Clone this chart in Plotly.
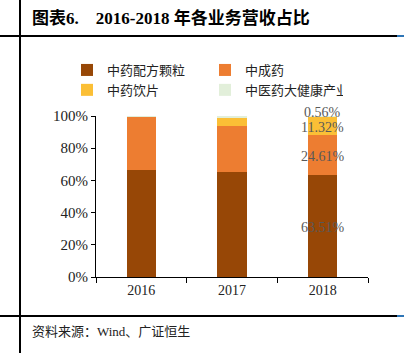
import plotly.graph_objects as go

years = ["2016", "2017", "2018"]
series_names = ["中药配方颗粒", "中成药", "中药饮片", "中医药大健康产业"]
granules = [66.6, 65.5, 63.51]
patent = [33.2, 28.5, 24.61]
pieces = [0.0, 5.3, 11.32]
health = [0.2, 0.7, 0.56]
colors = ["#974706", "#ED7D31", "#FBBF36", "#E2EFDA"]
y_ticks = [0, 20, 40, 60, 80, 100]
title_text = "图表6.    2016-2018 年各业务营收占比"
source_text = "资料来源：Wind、广证恒生"

W, H = 404, 353
L, R, T, B = 96, 368, 116, 277  # plot area in pixels

serif = "Liberation Serif, Times New Roman, Noto Sans CJK SC"

xpos = list(range(len(years)))

fig = go.Figure()
all_series = [granules, patent, pieces, health]
for name, vals, col in zip(series_names, all_series, colors):
    fig.add_trace(go.Bar(x=xpos, y=vals, name=name, marker=dict(color=col, line=dict(width=0))))

# data labels for 2018
shifts = [-2, -2, -1, 4]
cum = 0
for i, vals in enumerate(all_series):
    v = vals[2]
    center = cum + v / 2
    cum += v
    fig.add_annotation(x=xpos[2], y=center, text=f"{v:.2f}%", showarrow=False,
                       font=dict(family=serif, size=14, color="#595959"),
                       yshift=shifts[i])

def px_x(px):
    return (px - L) / (R - L)

def px_y(py):
    return (B - py) / (B - T)

shape_line = dict(color="black", width=2)
fig.add_shape(type="line", xref="paper", yref="paper", x0=px_x(20), x1=px_x(20), y0=px_y(0), y1=px_y(H), line=shape_line)
fig.add_shape(type="line", xref="paper", yref="paper", x0=px_x(0), x1=px_x(397), y0=px_y(36), y1=px_y(36), line=shape_line)
fig.add_shape(type="line", xref="paper", yref="paper", x0=px_x(0), x1=px_x(397), y0=px_y(316), y1=px_y(316), line=shape_line)
fig.add_shape(type="line", xref="paper", yref="paper", x0=px_x(397), x1=px_x(404), y0=px_y(36), y1=px_y(36), line=dict(color="#2E75B6", width=2))
fig.add_shape(type="line", xref="paper", yref="paper", x0=px_x(397), x1=px_x(404), y0=px_y(316), y1=px_y(316), line=dict(color="#2E75B6", width=2))

fig.add_annotation(xref="paper", yref="paper", x=px_x(30), y=px_y(18), xanchor="left", yanchor="middle",
                   text="<b>" + title_text + "</b>", showarrow=False,
                   font=dict(family=serif, size=17, color="black"))
fig.add_annotation(xref="paper", yref="paper", x=px_x(30), y=px_y(331), xanchor="left", yanchor="middle",
                   text=source_text, showarrow=False,
                   font=dict(family=serif, size=13, color="#222222"))

fig.update_layout(
    width=W, height=H,
    margin=dict(l=L, r=W - R, t=T, b=H - B, pad=0, autoexpand=False),
    barmode="stack", bargap=0.68,
    plot_bgcolor="white", paper_bgcolor="white",
    showlegend=True,
    legend=dict(orientation="h", xref="paper", yref="paper",
                x=px_x(67), y=px_y(55), xanchor="left", yanchor="top",
                entrywidth=93, entrywidthmode="pixels", traceorder="normal",
                font=dict(family=serif, size=13, color="#222222"),
                itemwidth=30, tracegroupgap=0),
    font=dict(family=serif, size=14, color="#222222"),
)
fig.update_xaxes(range=[-0.5, 2.5], tickvals=xpos, ticktext=years, tickangle=0,
                 showline=True, linecolor="black", linewidth=1, ticks="",
                 minor=dict(tickvals=[-0.5, 0.5, 1.5, 2.5], ticks="outside", ticklen=5, tickcolor="black", showgrid=False),
                 tickfont=dict(family=serif, size=14, color="#222222"), showgrid=False, zeroline=False)
fig.update_yaxes(range=[0, 100], tickvals=y_ticks, ticktext=[f"{t}%" for t in y_ticks],
                 showline=True, linecolor="black", linewidth=1,
                 ticks="outside", ticklen=4, tickcolor="black",
                 tickfont=dict(family=serif, size=15, color="#222222"), showgrid=False, zeroline=False)

fig.write_html("out.html")
